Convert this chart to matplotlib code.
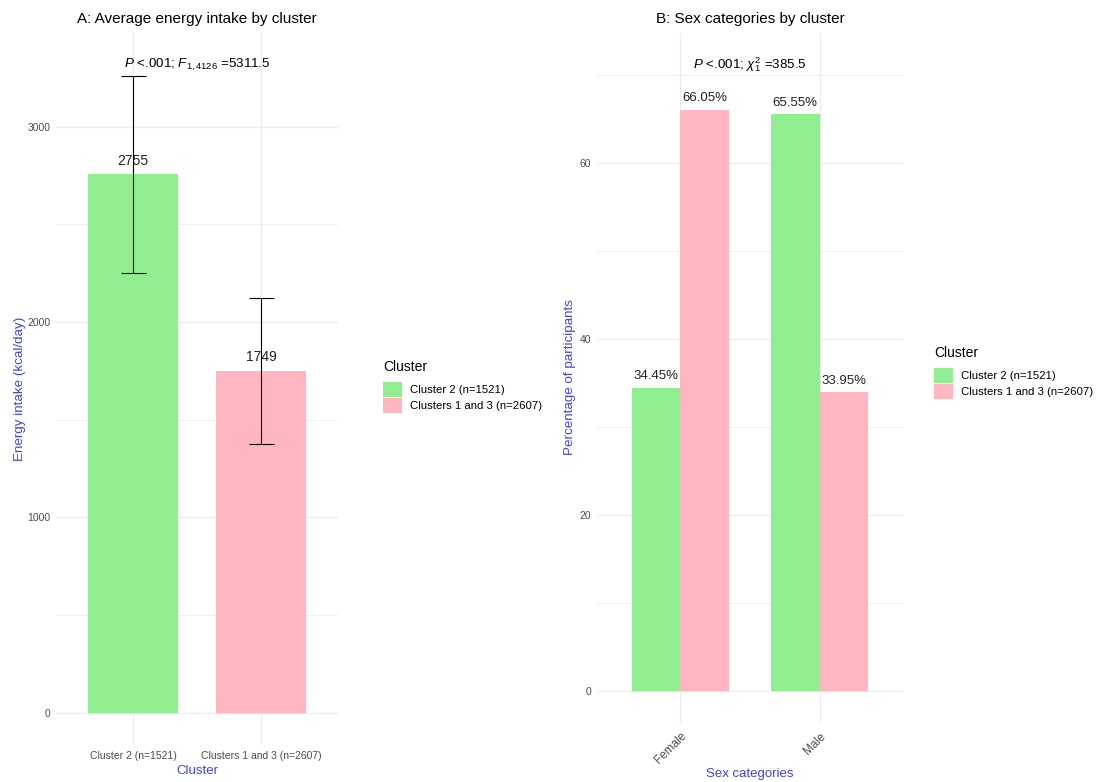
import matplotlib.pyplot as plt
from matplotlib.patches import Patch
import numpy as np

plt.rc('font', family=['Liberation Sans', 'DejaVu Sans'])
plt.rc('mathtext', fontset='custom', rm='Liberation Sans', it='Liberation Sans:italic',
       bf='Liberation Sans:bold')

# data
clusters = ['Cluster 2 (n=1521)', 'Clusters 1 and 3 (n=2607)']
energy_mean = [2755, 1749]
energy_sd = [505, 373]
sex_cats = ['Female', 'Male']
pct_cluster2 = [34.45, 65.55]
pct_cluster13 = [66.05, 33.95]

green = '#90EE90'
pink = '#FFB6C1'
gridc = '#EBEBEB'
tickc = '#4D4D4D'
blue = '#3F3FFF'

fig = plt.figure(figsize=(10.98, 7.82), dpi=100)
axA = fig.add_axes([0.051, 0.0473, 0.257, 0.911])
axB = fig.add_axes([0.5437, 0.0767, 0.2787, 0.8813])

def style(ax):
    for s in ax.spines.values():
        s.set_visible(False)
    ax.set_axisbelow(True)
    ax.grid(True, which='major', color=gridc, linewidth=0.9)
    ax.grid(True, which='minor', color=gridc, linewidth=0.5)
    ax.tick_params(axis='both', which='both', length=0, labelsize=7.5, labelcolor=tickc, pad=4)

# --- panel A ---
xa = np.arange(1, len(clusters) + 1)
axA.bar(xa, energy_mean, width=0.7, color=[green, pink], zorder=2)
axA.errorbar(xa, energy_mean, yerr=energy_sd, fmt='none', ecolor='black',
             elinewidth=0.8, capsize=9, capthick=0.8, zorder=4)
for x, m in zip(xa, energy_mean):
    axA.text(x, m + 35, str(m), ha='center', va='bottom', fontsize=10, color='#222222', zorder=3)
ytop = max(np.array(energy_mean) + np.array(energy_sd)) * 1.017
axA.text(1.5, ytop, r'$P$ <.001; $F_{1,4126}$ =5311.5', ha='center', va='center', fontsize=9.6)
axA.set_xlim(0.4, 2.6)
axA.set_ylim(-0.05 * ytop, 1.05 * ytop)
axA.set_xticks(xa)
axA.set_xticklabels(clusters)
axA.set_yticks([0, 1000, 2000, 3000])
axA.set_yticks([500, 1500, 2500], minor=True)
style(axA)
axA.set_title('A: Average energy intake by cluster', fontsize=11, pad=7)
axA.set_xlabel('Cluster', color=blue, fontsize=9.5, labelpad=3)
axA.set_ylabel('Energy intake (kcal/day)', color=blue, fontsize=9.6, labelpad=1)

# --- panel B ---
xb = np.arange(1, len(sex_cats) + 1)
w = 0.35
axB.bar(xb - w / 2, pct_cluster2, width=w, color=green, zorder=2)
axB.bar(xb + w / 2, pct_cluster13, width=w, color=pink, zorder=2)
for x, v in zip(xb - w / 2, pct_cluster2):
    axB.text(x, v + 0.6, f'{v:.2f}%', ha='center', va='bottom', fontsize=9.5, color='#222222')
for x, v in zip(xb + w / 2, pct_cluster13):
    axB.text(x, v + 0.6, f'{v:.2f}%', ha='center', va='bottom', fontsize=9.5, color='#222222')
ytopB = max(pct_cluster2 + pct_cluster13) * 1.078
axB.text(1.5, ytopB, r'$P$ <.001; $\chi^2_1$ =385.5', ha='center', va='center', fontsize=9.6)
axB.set_xlim(0.4, 2.6)
axB.set_ylim(-0.05 * ytopB, 1.05 * ytopB)
axB.set_xticks(xb)
axB.set_xticklabels(sex_cats, rotation=45, ha='right', rotation_mode='anchor')
axB.set_yticks([0, 20, 40, 60])
axB.set_yticks([10, 30, 50, 70], minor=True)
style(axB)
axB.tick_params(axis='x', labelsize=8.5, pad=6)
axB.set_title('B: Sex categories by cluster', fontsize=11, pad=7)
axB.set_xlabel('Sex categories', color=blue, fontsize=9.5, labelpad=1)
axB.set_ylabel('Percentage of participants', color=blue, fontsize=9.6, labelpad=3)

# legends
handles = [Patch(facecolor=green, edgecolor='none'), Patch(facecolor=pink, edgecolor='none')]
for loc in [(0.3488, 0.5396), (0.8506, 0.5575)]:
    leg = fig.legend(handles, clusters, title='Cluster', loc='upper left', bbox_to_anchor=loc,
                     frameon=False, fontsize=8.2, title_fontsize=10, alignment='left',
                     handlelength=1.65, handleheight=1.6, handletextpad=0.7, labelspacing=0.1,
                     borderaxespad=0, borderpad=0)
    leg._legend_box.sep = 6  # a bit more room under the title

plt.savefig('out.png', dpi=100)
